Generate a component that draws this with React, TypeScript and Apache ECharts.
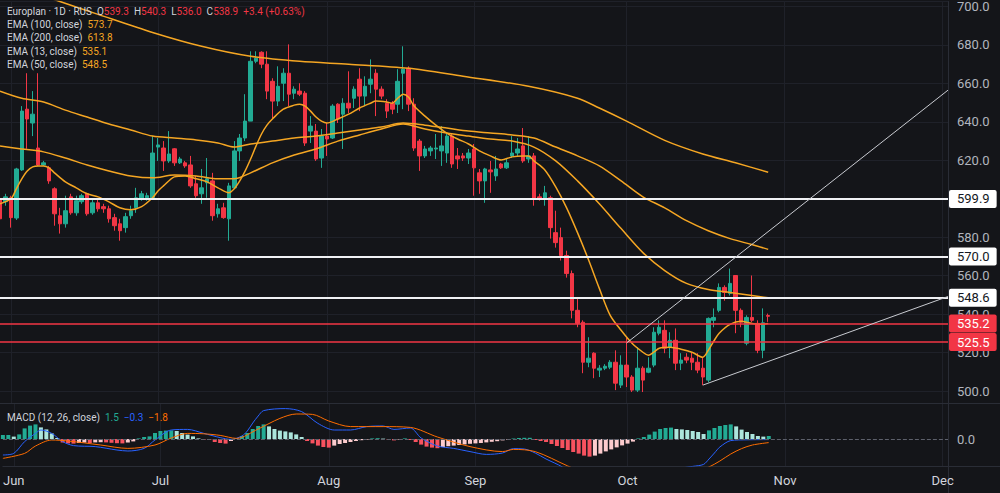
import React, { useEffect, useRef } from "react";
import * as echarts from "echarts";

// ---------- axis / calendar ----------
const monthLabels = ["Jun", "Jul", "Aug", "Sep", "Oct", "Nov", "Dec"];
const monthStartBars = [2, 29, 60, 87, 115, 144, 173];
const barCount = 175;
const categories = Array.from({ length: barCount }, (_, i) => String(i));

// ---------- candles: [open, close, low, high] ----------
const candles: number[][] = [
  [600.0, 589.6, 587.6, 601.6], [598.5, 601.0, 596.4, 602.6], [600.5, 590.2, 585.0, 601.6],
  [590.0, 615.5, 589.0, 616.1], [615.0, 645.6, 614.5, 648.2], [646.6, 641.5, 626.0, 665.3],
  [639.4, 644.0, 632.6, 656.0], [626.4, 617.6, 617.1, 665.3], [617.6, 618.7, 617.1, 619.7],
  [616.1, 609.3, 607.8, 617.1], [605.2, 592.2, 586.0, 606.0], [591.2, 587.0, 581.9, 595.3],
  [587.0, 593.8, 585.0, 601.6], [601.0, 592.7, 591.7, 602.6], [592.7, 599.0, 591.2, 601.6],
  [598.5, 601.6, 597.4, 602.6], [602.6, 592.2, 591.2, 603.1], [592.7, 597.9, 591.7, 600.0],
  [597.9, 594.8, 593.3, 599.5], [595.9, 594.8, 592.7, 597.4], [594.8, 589.6, 587.6, 596.4],
  [590.2, 586.0, 583.4, 592.2], [587.0, 583.4, 578.2, 589.6], [585.0, 590.7, 582.4, 592.7],
  [591.2, 593.8, 589.6, 596.4], [595.3, 600.5, 592.7, 605.7], [600.0, 602.6, 599.0, 604.1],
  [600.5, 601.6, 599.0, 603.1], [600.5, 623.8, 600.0, 632.6], [626.9, 628.0, 619.7, 631.6],
  [626.4, 619.7, 614.5, 630.0], [619.7, 623.3, 618.7, 635.2], [626.0, 618.7, 617.1, 626.4],
  [618.7, 620.7, 618.1, 621.8], [618.7, 617.1, 616.1, 619.7], [617.6, 606.7, 605.7, 622.3],
  [607.8, 601.6, 600.5, 611.9], [602.6, 605.7, 597.4, 615.5], [608.3, 610.4, 600.5, 621.2],
  [609.3, 591.2, 588.6, 613.5], [592.2, 594.8, 590.2, 597.4], [595.3, 590.2, 589.6, 597.9],
  [589.6, 606.7, 578.2, 608.3], [605.7, 624.9, 605.2, 630.0], [624.9, 631.6, 619.7, 633.7],
  [631.6, 640.4, 630.0, 654.4], [640.4, 671.5, 640.4, 676.7], [671.5, 673.1, 670.5, 676.7],
  [676.2, 670.0, 667.9, 676.7], [670.0, 656.0, 651.8, 676.7], [661.1, 650.8, 641.5, 662.7],
  [650.8, 658.5, 648.2, 668.9], [660.1, 665.3, 650.8, 667.9], [665.3, 654.4, 648.2, 680.3],
  [654.9, 657.0, 651.8, 658.5], [656.0, 654.4, 653.4, 660.1], [654.9, 629.0, 627.5, 656.0],
  [635.2, 637.8, 629.0, 643.0], [635.2, 620.7, 619.7, 638.9], [621.2, 632.6, 616.1, 636.3],
  [632.6, 631.1, 622.3, 639.4], [631.6, 648.2, 631.1, 649.2], [649.2, 641.5, 639.4, 649.7],
  [644.0, 649.7, 625.9, 652.3], [649.7, 647.2, 644.6, 666.3], [652.3, 657.0, 647.2, 658.5],
  [662.2, 653.4, 645.6, 667.9], [653.4, 658.5, 648.2, 663.7], [659.6, 662.2, 654.9, 672.5],
  [665.3, 657.0, 643.0, 667.4], [657.0, 653.4, 651.8, 658.5], [649.7, 645.6, 642.0, 651.8],
  [649.7, 646.6, 644.0, 650.8], [649.2, 661.1, 644.6, 667.4], [665.3, 667.4, 646.6, 679.3],
  [667.9, 649.2, 645.6, 668.9], [649.2, 626.4, 624.9, 652.3], [630.0, 622.3, 614.5, 631.1],
  [622.3, 625.9, 621.2, 627.5], [624.9, 626.4, 622.3, 627.5], [625.9, 626.4, 620.7, 633.7],
  [624.9, 627.5, 617.1, 637.8], [623.8, 632.6, 618.7, 633.7], [632.6, 618.1, 616.1, 633.7],
  [622.3, 620.7, 615.5, 626.4], [622.3, 621.2, 619.7, 623.8], [621.2, 623.8, 618.1, 625.9],
  [625.9, 616.1, 601.6, 628.5], [613.5, 609.3, 602.6, 615.5], [609.3, 615.5, 597.9, 616.1],
  [615.0, 614.0, 603.1, 619.7], [611.9, 615.5, 609.3, 622.3], [618.1, 616.1, 615.5, 618.7],
  [616.1, 618.7, 615.5, 620.7], [622.3, 623.8, 621.2, 632.6], [623.8, 625.9, 622.3, 631.6],
  [627.5, 619.7, 618.7, 636.8], [620.7, 622.3, 618.7, 632.6], [622.3, 600.0, 596.4, 623.8],
  [601.0, 600.0, 599.0, 602.6], [600.0, 603.1, 596.4, 606.7], [600.5, 585.0, 579.3, 601.6],
  [582.4, 577.2, 574.6, 593.8], [579.8, 570.5, 567.9, 585.0], [570.5, 561.1, 559.0, 573.0],
  [561.1, 542.0, 537.8, 562.7], [542.0, 535.2, 533.2, 548.0], [535.8, 515.0, 509.3, 536.8],
  [515.0, 517.1, 512.4, 528.0], [519.7, 511.9, 506.7, 520.2], [510.9, 511.9, 507.3, 513.5],
  [511.9, 512.9, 510.9, 514.0], [512.4, 515.0, 511.4, 516.1], [515.0, 504.1, 500.5, 521.2],
  [503.1, 513.5, 501.6, 518.6], [513.5, 507.3, 502.1, 528.0], [507.3, 500.5, 499.5, 508.3],
  [500.5, 511.9, 499.5, 522.8], [511.9, 505.7, 499.5, 512.9], [509.8, 511.9, 509.3, 517.6],
  [513.5, 530.6, 512.4, 533.2], [530.1, 533.2, 529.0, 536.8], [531.6, 522.3, 519.7, 536.8],
  [522.8, 526.4, 517.1, 530.6], [526.4, 514.5, 510.9, 532.6], [514.5, 516.1, 510.9, 519.7],
  [517.6, 516.1, 514.5, 519.7], [517.1, 515.0, 510.9, 520.2], [515.0, 510.9, 509.3, 519.7],
  [511.9, 507.3, 503.1, 517.6], [505.7, 537.8, 504.6, 538.3], [536.8, 538.3, 533.2, 543.0],
  [542.0, 553.9, 541.0, 556.0], [553.9, 551.3, 547.0, 555.0], [550.8, 556.0, 549.7, 563.7],
  [560.1, 542.0, 530.1, 560.1], [542.0, 535.8, 533.2, 543.0], [524.9, 538.3, 523.8, 539.4],
  [538.3, 536.8, 535.8, 560.1], [535.2, 521.2, 519.7, 536.8], [521.2, 535.5, 517.1, 543.0],
  [539.3, 538.9, 536.0, 540.3],
];

// ---------- moving averages: [bar, value] ----------
const ema13: number[][] = [
  [0, 597.4], [2, 600.0], [3, 605.2], [4, 610.4], [5, 614.5], [6, 616.6], [7, 617.1], [8, 617.1],
  [9, 616.1], [10, 613.5], [12, 608.8], [14, 605.7], [16, 602.6], [18, 601.0], [20, 598.4],
  [22, 595.3], [24, 594.3], [26, 595.9], [28, 600.5], [29, 604.1], [30, 606.7], [32, 611.4],
  [34, 611.9], [36, 610.4], [38, 608.8], [40, 605.7], [42, 603.1], [43, 605.2], [44, 609.3],
  [45, 614.5], [46, 620.7], [47, 627.5], [48, 633.7], [49, 638.3], [50, 641.5], [52, 646.6],
  [54, 648.7], [55, 649.2], [56, 648.2], [57, 645.6], [58, 642.5], [59, 640.4], [60, 639.4],
  [62, 641.5], [64, 644.0], [66, 647.2], [68, 649.7], [69, 650.8], [71, 650.3], [72, 649.7],
  [73, 652.3], [74, 654.4], [75, 652.8], [76, 648.2], [78, 643.0], [80, 638.3], [82, 634.2],
  [84, 631.1], [86, 628.5], [88, 624.9], [90, 622.3], [92, 620.2], [94, 621.8], [96, 622.3],
  [97, 622.3], [98, 619.7], [100, 615.0], [102, 606.2], [104, 595.3], [106, 582.4], [108, 568.4],
  [110, 553.4], [112, 539.4], [114, 531.6], [116, 524.9], [118, 520.2], [119, 518.6], [120, 520.2],
  [121, 522.3], [123, 522.8], [125, 521.8], [127, 520.2], [129, 517.6], [130, 521.2], [131, 525.9],
  [132, 530.1], [134, 534.7], [136, 536.3], [138, 535.2], [140, 534.7], [141, 535.1],
];
const ema50: number[][] = [
  [0, 627.5], [4, 625.9], [8, 624.4], [12, 621.2], [16, 617.6], [20, 614.5], [24, 611.9],
  [28, 610.9], [32, 612.4], [36, 611.9], [40, 610.4], [43, 610.4], [46, 613.5], [50, 618.7],
  [54, 622.8], [58, 625.9], [62, 630.0], [66, 633.2], [70, 636.3], [74, 638.9], [78, 636.3],
  [82, 634.2], [86, 632.6], [90, 631.1], [94, 630.0], [98, 626.9], [102, 619.7], [106, 609.3],
  [110, 597.4], [114, 584.5], [118, 572.0], [122, 562.7], [126, 556.0], [130, 552.8],
  [134, 551.3], [138, 549.7], [141, 548.5],
];
const ema100: number[][] = [
  [0, 656.0], [4, 652.3], [8, 650.3], [12, 646.1], [16, 642.5], [20, 638.9], [24, 635.8],
  [28, 632.6], [32, 631.6], [36, 630.6], [40, 629.0], [43, 626.9], [46, 628.5], [50, 630.0],
  [54, 631.6], [58, 632.6], [62, 634.2], [66, 635.8], [70, 637.3], [74, 639.4], [78, 638.3],
  [82, 636.8], [86, 635.2], [90, 634.2], [94, 633.2], [98, 631.6], [102, 626.9], [106, 622.3],
  [110, 617.1], [114, 609.3], [118, 601.0], [122, 595.3], [126, 588.6], [130, 583.4],
  [134, 579.3], [138, 576.2], [141, 573.7],
];
const ema200: number[][] = [
  [8, 705.5], [11, 702.6], [18, 695.9], [28, 686.5], [37, 679.3], [46, 674.1], [55, 671.5],
  [64, 670.0], [75, 667.9], [85, 663.7], [97, 658.5], [106, 652.3], [110, 647.2], [115, 640.4],
  [122, 630.4], [129, 623.3], [135, 618.7], [141, 613.8],
];

// ---------- MACD ----------
const macdHist: number[] = [
  2.0, 2.0, 1.2, 2.3, 5.3, 6.7, 7.3, 5.8, 4.8, 2.8, 0.5, -1.8, -2.2, -2.3, -2.0, -1.8, -2.0, -1.7,
  -1.6, -1.7, -1.9, -2.1, -2.2, -1.8, -1.2, 0.3, 1.0, 1.3, 3.0, 4.0, 4.2, 4.3, 4.0, 3.0, 2.2, 1.3,
  0.3, -0.3, -0.5, -1.5, -2.0, -2.3, -1.0, 0.5, 1.5, 3.0, 5.0, 6.5, 7.3, 6.3, 5.0, 4.2, 3.8, 3.3,
  2.3, 1.0, -1.0, -2.2, -3.3, -4.0, -4.3, -3.3, -2.5, -2.0, -1.5, -1.0, -0.6, -0.3, 0.3, 0.4, 0.2,
  -0.4, -0.7, -0.3, 0.3, -0.5, -1.5, -2.8, -3.8, -4.3, -4.6, -4.0, -3.6, -3.3, -3.0, -2.7, -2.4,
  -2.2, -2.0, -1.7, -1.4, -1.1, -0.7, -0.3, 0.2, 0.5, 0.6, 0.6, -0.5, -1.0, -1.5, -2.5, -3.5, -4.5,
  -5.5, -6.5, -7.3, -8.3, -8.8, -8.3, -7.3, -6.2, -5.2, -4.2, -3.2, -2.3, -1.3, 0.3, 1.0, 2.2, 3.7,
  5.0, 5.5, 5.7, 5.0, 4.8, 4.5, 4.0, 3.5, 2.5, 4.3, 5.5, 6.5, 7.0, 7.3, 6.3, 4.7, 3.5, 2.5, 1.5,
  1.2, 1.5,
];
const macdLine: number[][] = [
  [0, -8], [2, -7.2], [4, -1.3], [6, 2.8], [7, 4.5], [9, 2.8], [11, -1.3], [13, -3.3], [17, -3.8],
  [21, -5.5], [23, -6], [26, -4.7], [28, -0.5], [31, 4.5], [34, 4.8], [37, 2.8], [40, 0.7],
  [42, -0.2], [44, 1.5], [45, 4], [46, 8], [47, 11.5], [48, 14.2], [52, 15.2], [55, 13.7],
  [58, 7.8], [61, 4.5], [64, 4.5], [67, 6.2], [70, 6.5], [72, 4.8], [75, 5.5], [77, 0.5],
  [80, -3.5], [83, -4.7], [86, -6.3], [89, -7.7], [92, -7], [94, -4.8], [96, -5], [98, -7],
  [100, -10], [103, -14], [106, -20], [109, -25], [112, -27], [116, -25.5], [119, -22],
  [122, -17], [125, -14.5], [127, -13.7], [129, -12.7], [130, -10], [131, -7], [132, -4],
  [134, -0.8], [137, -0.4], [141, -0.3],
];
const signalLine: number[][] = [
  [0, -9.7], [4, -7.2], [6, -3.5], [9, -0.5], [12, -1], [18, -3], [23, -4.7], [28, -3],
  [31, 0.5], [34, 2.8], [37, 2.6], [40, 1.8], [43, 0.3], [47, 5], [51, 10.3], [54, 12.5],
  [57, 12.3], [60, 9], [64, 6.2], [70, 6.2], [75, 5.8], [80, 1], [86, -3.8], [92, -6.3],
  [94, -5.2], [98, -6.3], [104, -13.5], [108, -18], [112, -22], [116, -24], [120, -23],
  [124, -20], [128, -16], [130, -14], [132, -11], [134, -7.5], [136, -4.8], [138, -3],
  [141, -1.8],
];

// ---------- levels and trend lines ----------
const whiteLevels = [599.9, 570.0, 548.6];
const redLevels = [535.2, 525.5];
const trendUpper: number[][] = [[115, 525.0], [174, 656.5]];
const trendLower: number[][] = [[129, 503.1], [174, 549.2]];

// ---------- colours ----------
const BG = "#141519";
const UP = "#22ab94";
const DOWN = "#f23645";
const EMA_C = "#f5a623";
const GRID = "#1f2129";
const BORDER = "#2a2d36";
const AXIS_TXT = "#b2b5be";
const LEG_TXT = "#d1d4dc";
const FONT = "Roboto";

const minus = (v: number) => (v < 0 ? "\u2212" + Math.abs(v).toFixed(1) : v.toFixed(1));

export default function App() {
  const ref = useRef<HTMLDivElement>(null);

  useEffect(() => {
    if (!ref.current) return;
    const chart = echarts.init(ref.current, undefined, { renderer: "svg" });

    const last = candles[candles.length - 1];
    const prevClose = candles[candles.length - 2][1];
    const chg = last[1] - prevClose;
    const pct = (chg / prevClose) * 100;

    const histData = macdHist.map((v, i) => {
      const prev = i > 0 ? macdHist[i - 1] : v;
      let color: string;
      if (v >= 0) color = v >= prev ? UP : "#ace5dc";
      else color = v <= prev ? "#f7525f" : "#fccbcd";
      return { value: v, itemStyle: { color } };
    });

    const isMonth = (i: number) => monthStartBars.indexOf(i) >= 0;

    const levelLine = (v: number, red: boolean) => ({
      yAxis: v,
      lineStyle: { color: red ? DOWN : "#f0f1f4", width: red ? 1.5 : 2, type: "solid" },
      label: {
        show: true,
        position: "end",
        distance: 1,
        formatter: () => v.toFixed(1),
        color: red ? "#ffffff" : "#131722",
        backgroundColor: red ? DOWN : "#ffffff",
        padding: [3, 7, 2, 8],
        borderRadius: 2,
        fontSize: 13,
        fontFamily: FONT,
      },
    });

    const emaSeries = (data: number[][], name: string) => ({
      type: "line",
      name,
      xAxisIndex: 0,
      yAxisIndex: 0,
      data,
      showSymbol: false,
      symbol: "none",
      smooth: 0.3,
      lineStyle: { color: EMA_C, width: 1.5 },
      z: 4,
      silent: true,
    });

    const trendSeries = (data: number[][]) => ({
      type: "line",
      xAxisIndex: 0,
      yAxisIndex: 0,
      data,
      symbol: "none",
      lineStyle: { color: "#c9cbd1", width: 1 },
      z: 5,
      silent: true,
    });

    const rowY = [11, 24.3, 37.7, 51, 64.3];
    const emaRows: [string, number[][]][] = [
      ["EMA (100, close)", ema100],
      ["EMA (200, close)", ema200],
      ["EMA (13, close)", ema13],
      ["EMA (50, close)", ema50],
    ];

    const graphic: any[] = [
      {
        type: "text",
        x: 7,
        y: rowY[0],
        z: 100,
        style: {
          text:
            "{t|Europlan \u00b7 1D \u00b7 RUS}  {l|O}{v|" + last[0].toFixed(1) +
            "}  {l|H}{v|" + last[3].toFixed(1) +
            "}  {l|L}{v|" + last[2].toFixed(1) +
            "}  {l|C}{v|" + last[1].toFixed(1) +
            "}  {v|" + (chg >= 0 ? "+" : "\u2212") + Math.abs(chg).toFixed(1) +
            " (" + (pct >= 0 ? "+" : "\u2212") + Math.abs(pct).toFixed(2) + "%)}",
          verticalAlign: "middle",
          font: "10px " + FONT,
          fill: LEG_TXT,
          rich: {
            t: { fill: LEG_TXT, fontSize: 10, fontFamily: FONT },
            l: { fill: LEG_TXT, fontSize: 10, fontFamily: FONT },
            v: { fill: DOWN, fontSize: 10, fontFamily: FONT },
          },
        },
      },
      ...emaRows.map(([label, arr], i) => ({
        type: "text",
        x: 7,
        y: rowY[i + 1],
        z: 100,
        style: {
          text: "{l|" + label + "}  {v|" + arr[arr.length - 1][1].toFixed(1) + "}",
          verticalAlign: "middle",
          font: "10px " + FONT,
          fill: LEG_TXT,
          rich: {
            l: { fill: LEG_TXT, fontSize: 10, fontFamily: FONT },
            v: { fill: EMA_C, fontSize: 10, fontFamily: FONT },
          },
        },
      })),
      {
        type: "text",
        x: 7,
        y: 417,
        z: 100,
        style: {
          text:
            "{l|MACD (12, 26, close)}  {h|" + minus(macdHist[macdHist.length - 1]) +
            "}  {m|" + minus(macdLine[macdLine.length - 1][1]) +
            "}  {s|" + minus(signalLine[signalLine.length - 1][1]) + "}",
          verticalAlign: "middle",
          font: "10px " + FONT,
          fill: LEG_TXT,
          rich: {
            l: { fill: LEG_TXT, fontSize: 10, fontFamily: FONT },
            h: { fill: UP, fontSize: 10, fontFamily: FONT },
            m: { fill: "#2962ff", fontSize: 10, fontFamily: FONT },
            s: { fill: "#ff6d00", fontSize: 10, fontFamily: FONT },
          },
        },
      },
      {
        type: "line",
        shape: { x1: 948, y1: 403.5, x2: 1000, y2: 403.5 },
        style: { stroke: BORDER, lineWidth: 1 },
        silent: true,
      },
      {
        type: "line",
        shape: { x1: 948, y1: 466.5, x2: 1000, y2: 466.5 },
        style: { stroke: BORDER, lineWidth: 1 },
        silent: true,
      },
      {
        type: "line",
        shape: { x1: 948.5, y1: 466, x2: 948.5, y2: 493 },
        style: { stroke: BORDER, lineWidth: 1 },
        silent: true,
      },
    ];

    const xAxisBase = {
      type: "category",
      data: categories,
      boundaryGap: false,
      axisTick: { show: false },
      axisLine: { show: true, onZero: false, lineStyle: { color: BORDER } },
      splitLine: { show: true, interval: (i: number) => isMonth(i), lineStyle: { color: GRID } },
    };

    chart.setOption({
      animation: false,
      backgroundColor: BG,
      textStyle: { fontFamily: FONT },
      grid: [
        { left: 0, right: 52, top: 0, height: 403 },
        { left: 0, right: 52, top: 403, height: 63 },
      ],
      xAxis: [
        { ...xAxisBase, gridIndex: 0, axisLabel: { show: false } },
        {
          ...xAxisBase,
          gridIndex: 1,
          axisLabel: {
            show: true,
            interval: (i: number) => isMonth(i),
            formatter: (_v: string, i: number) => monthLabels[monthStartBars.indexOf(i)] || "",
            color: LEG_TXT,
            fontSize: 13,
            fontFamily: FONT,
            margin: 8,
          },
        },
      ],
      yAxis: [
        {
          type: "value",
          gridIndex: 0,
          position: "right",
          min: 493.8,
          max: 702.6,
          splitNumber: 10,
          minInterval: 20,
          maxInterval: 20,
          axisLine: { show: true, lineStyle: { color: BORDER } },
          axisTick: { show: false },
          splitLine: { show: true, lineStyle: { color: GRID } },
          axisLabel: {
            color: AXIS_TXT,
            fontSize: 13,
            fontFamily: FONT,
            margin: 9,
            showMinLabel: false,
            showMaxLabel: false,
            formatter: (v: number) => v.toFixed(1),
          },
        },
        {
          type: "value",
          gridIndex: 1,
          position: "right",
          min: -13.5,
          max: 18,
          minInterval: 10,
          maxInterval: 10,
          axisLine: { show: true, lineStyle: { color: BORDER } },
          axisTick: { show: false },
          splitLine: { show: false },
          axisLabel: {
            color: AXIS_TXT,
            fontSize: 13,
            fontFamily: FONT,
            margin: 9,
            formatter: (v: number) => (v === 0 ? "0.0" : ""),
          },
        },
      ],
      series: [
        {
          type: "candlestick",
          xAxisIndex: 0,
          yAxisIndex: 0,
          data: candles,
          barWidth: 4,
          itemStyle: {
            color: UP,
            color0: DOWN,
            borderColor: UP,
            borderColor0: DOWN,
            borderWidth: 1,
          },
          z: 3,
          silent: true,
          markLine: {
            silent: true,
            symbol: ["none", "none"],
            animation: false,
            data: [
              ...whiteLevels.map((v) => levelLine(v, false)),
              ...redLevels.map((v) => levelLine(v, true)),
            ],
          },
        },
        emaSeries(ema100, "EMA100"),
        emaSeries(ema200, "EMA200"),
        emaSeries(ema13, "EMA13"),
        emaSeries(ema50, "EMA50"),
        trendSeries(trendUpper),
        trendSeries(trendLower),
        {
          type: "bar",
          xAxisIndex: 1,
          yAxisIndex: 1,
          data: histData,
          barWidth: 4,
          silent: true,
          markLine: {
            silent: true,
            symbol: ["none", "none"],
            label: { show: false },
            lineStyle: { color: "#5d606b", type: "dashed", width: 1 },
            data: [{ yAxis: 0 }],
          },
        },
        {
          type: "line",
          xAxisIndex: 1,
          yAxisIndex: 1,
          data: macdLine,
          symbol: "none",
          smooth: 0.3,
          lineStyle: { color: "#2962ff", width: 1 },
          silent: true,
          z: 4,
        },
        {
          type: "line",
          xAxisIndex: 1,
          yAxisIndex: 1,
          data: signalLine,
          symbol: "none",
          smooth: 0.3,
          lineStyle: { color: "#ff6d00", width: 1 },
          silent: true,
          z: 4,
        },
      ],
      graphic,
    });

    return () => chart.dispose();
  }, []);

  return (
    <div
      ref={ref}
      style={{ position: "fixed", left: 0, top: 0, width: 1000, height: 493, background: BG }}
    />
  );
}
